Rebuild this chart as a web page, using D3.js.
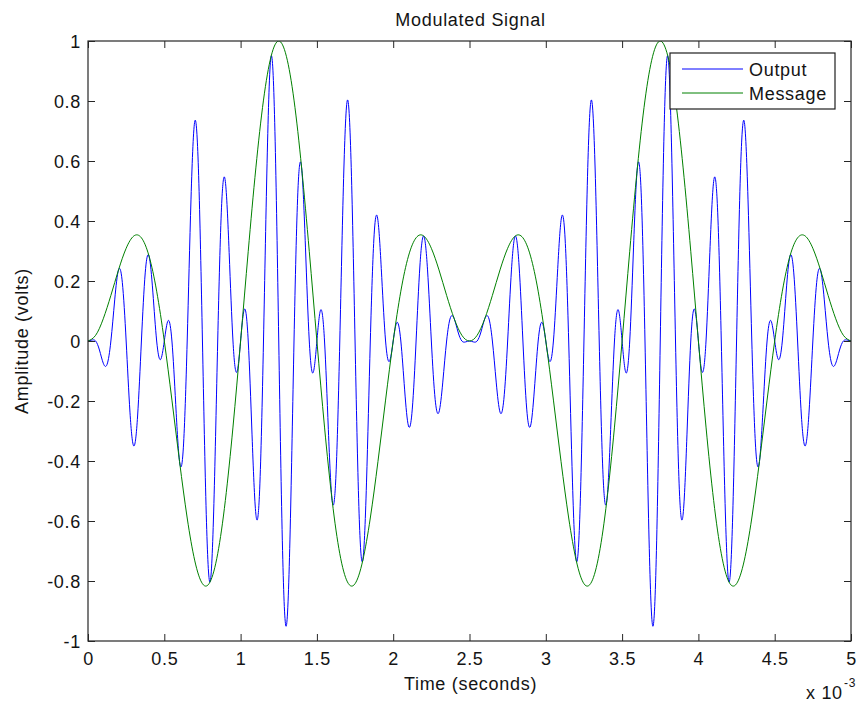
<!DOCTYPE html>
<html>
<head>
<meta charset="utf-8">
<script src="https://cdn.jsdelivr.net/npm/d3@7"></script>
<style>
html, body { margin: 0; padding: 0; background: #ffffff; }
svg { display: block; }
text { font-family: "Liberation Sans", Arial, Helvetica, sans-serif; fill: #141414; }
</style>
</head>
<body>
<svg id="chart" width="860" height="702"></svg>
<script>
// ---------------- data (time in units of 10^-3 s) ----------------
const xTickValues = [0, 0.5, 1, 1.5, 2, 2.5, 3, 3.5, 4, 4.5, 5];
const xTickLabels = ["0", "0.5", "1", "1.5", "2", "2.5", "3", "3.5", "4", "4.5", "5"];
const yTickValues = [-1, -0.8, -0.6, -0.4, -0.2, 0, 0.2, 0.4, 0.6, 0.8, 1];
const yTickLabels = ["-1", "-0.8", "-0.6", "-0.4", "-0.2", "0", "0.2", "0.4", "0.6", "0.8", "1"];

const seriesNames = ["Output", "Message"];
const seriesColors = ["#0000ff", "#008000"];

// Output samples, one every 0.025 (x 10^-3 s), from t = 0 to t = 5
const outputStart = 0;
const outputStep = 0.025;
const outputValues = [
  0, 0.003, 0, -0.030, -0.074, -0.078, 0, 0.137, 0.237, 0.195,
  0, -0.237, -0.350, -0.250, 0, 0.227, 0.283, 0.163, 0, -0.062,
  0, 0.068, 0, -0.212, -0.402, -0.354, 0, 0.473, 0.733, 0.552,
  0, -0.578, -0.803, -0.542, 0, 0.446, 0.532, 0.295, 0, -0.104,
  0, 0.106, 0, -0.313, -0.577, -0.494, 0, 0.627, 0.949, 0.698,
  0, -0.698, -0.949, -0.627, 0, 0.494, 0.577, 0.313, 0, -0.106,
  0, 0.104, 0, -0.295, -0.532, -0.446, 0, 0.542, 0.803, 0.578,
  0, -0.552, -0.733, -0.473, 0, 0.354, 0.402, 0.212, 0, -0.068,
  0, 0.062, 0, -0.163, -0.283, -0.227, 0, 0.250, 0.350, 0.237,
  0, -0.195, -0.237, -0.137, 0, 0.078, 0.074, 0.030, 0, -0.003,
  0, -0.003, 0, 0.030, 0.074, 0.078, 0, -0.137, -0.237, -0.195,
  0, 0.237, 0.350, 0.250, 0, -0.227, -0.283, -0.163, 0, 0.062,
  0, -0.068, 0, 0.212, 0.402, 0.354, 0, -0.473, -0.733, -0.552,
  0, 0.578, 0.803, 0.542, 0, -0.446, -0.532, -0.295, 0, 0.104,
  0, -0.106, 0, 0.313, 0.577, 0.494, 0, -0.627, -0.949, -0.698,
  0, 0.698, 0.949, 0.627, 0, -0.494, -0.577, -0.313, 0, 0.106,
  0, -0.104, 0, 0.295, 0.532, 0.446, 0, -0.542, -0.803, -0.578,
  0, 0.552, 0.733, 0.473, 0, -0.354, -0.402, -0.212, 0, 0.068,
  0, -0.062, 0, 0.163, 0.283, 0.227, 0, -0.250, -0.350, -0.237,
  0, 0.195, 0.237, 0.137, 0, -0.078, -0.074, -0.030, 0, 0.003,
  0
];

// Message samples, one every 0.05 (x 10^-3 s), from t = 0 to t = 5
const messageStart = 0;
const messageStep = 0.05;
const messageValues = [
  0, 0.019, 0.074, 0.152, 0.237, 0.309, 0.350, 0.344, 0.283, 0.166,
  0, -0.197, -0.402, -0.590, -0.733, -0.809, -0.803, -0.709, -0.532, -0.287,
  0, 0.299, 0.577, 0.803, 0.949, 1, 0.949, 0.803, 0.577, 0.299,
  0, -0.287, -0.532, -0.709, -0.803, -0.809, -0.733, -0.590, -0.402, -0.197,
  0, 0.166, 0.283, 0.344, 0.350, 0.309, 0.237, 0.152, 0.074, 0.019,
  0, 0.019, 0.074, 0.152, 0.237, 0.309, 0.350, 0.344, 0.283, 0.166,
  0, -0.197, -0.402, -0.590, -0.733, -0.809, -0.803, -0.709, -0.532, -0.287,
  0, 0.299, 0.577, 0.803, 0.949, 1, 0.949, 0.803, 0.577, 0.299,
  0, -0.287, -0.532, -0.709, -0.803, -0.809, -0.733, -0.590, -0.402, -0.197,
  0, 0.166, 0.283, 0.344, 0.350, 0.309, 0.237, 0.152, 0.074, 0.019,
  0
];

// ---------------- layout ----------------
const W = 860, H = 702;
const plot = { left: 88, right: 851, top: 41, bottom: 641 };
const fontSize = 18;
const letterSpacing = 0.7;
const tickLen = 7;

const svg = d3.select("#chart");

const x = d3.scaleLinear().domain([0, 5]).range([plot.left, plot.right]);
const y = d3.scaleLinear().domain([-1, 1]).range([plot.bottom, plot.top]);

const outputData = outputValues.map((v, i) => ({ t: outputStart + i * outputStep, v }));
const messageData = messageValues.map((v, i) => ({ t: messageStart + i * messageStep, v }));

// clip
svg.append("defs").append("clipPath").attr("id", "plotClip")
  .append("rect")
  .attr("x", plot.left).attr("y", plot.top)
  .attr("width", plot.right - plot.left).attr("height", plot.bottom - plot.top);

// background of axes
svg.append("rect")
  .attr("x", plot.left).attr("y", plot.top)
  .attr("width", plot.right - plot.left).attr("height", plot.bottom - plot.top)
  .attr("fill", "#ffffff");

// lines
const line = d3.line()
  .x(d => x(d.t))
  .y(d => y(d.v))
  .curve(d3.curveNatural);

const lines = svg.append("g").attr("clip-path", "url(#plotClip)");
lines.append("path")
  .datum(outputData)
  .attr("d", line)
  .attr("fill", "none")
  .attr("stroke", seriesColors[0])
  .attr("stroke-width", 1);
lines.append("path")
  .datum(messageData)
  .attr("d", line)
  .attr("fill", "none")
  .attr("stroke", seriesColors[1])
  .attr("stroke-width", 1);

// axes
const axisColor = "#262626";
function styleAxis(g, showText) {
  g.select(".domain").remove();
  g.selectAll(".tick line").attr("stroke", axisColor).attr("stroke-width", 1);
  g.selectAll(".tick text")
    .attr("fill", "#141414")
    .style("font-size", fontSize + "px")
    .style("letter-spacing", letterSpacing + "px")
    .style("font-family", '"Liberation Sans", Arial, Helvetica, sans-serif');
  if (!showText) g.selectAll(".tick text").remove();
}

const xAxisBottom = d3.axisBottom(x)
  .tickValues(xTickValues)
  .tickFormat((d, i) => xTickLabels[i])
  .tickSizeInner(-tickLen).tickSizeOuter(0).tickPadding(11);
svg.append("g")
  .attr("transform", `translate(0,${plot.bottom})`)
  .call(xAxisBottom)
  .call(g => styleAxis(g, true));

const xAxisTop = d3.axisTop(x)
  .tickValues(xTickValues)
  .tickFormat("")
  .tickSizeInner(-tickLen).tickSizeOuter(0);
svg.append("g")
  .attr("transform", `translate(0,${plot.top})`)
  .call(xAxisTop)
  .call(g => styleAxis(g, false));

const yAxisLeft = d3.axisLeft(y)
  .tickValues(yTickValues)
  .tickFormat((d, i) => yTickLabels[i])
  .tickSizeInner(-tickLen).tickSizeOuter(0).tickPadding(7);
svg.append("g")
  .attr("transform", `translate(${plot.left},0)`)
  .call(yAxisLeft)
  .call(g => styleAxis(g, true))
  .call(g => g.selectAll(".tick text").attr("dy", "0.38em"));

const yAxisRight = d3.axisRight(y)
  .tickValues(yTickValues)
  .tickFormat("")
  .tickSizeInner(-tickLen).tickSizeOuter(0);
svg.append("g")
  .attr("transform", `translate(${plot.right},0)`)
  .call(yAxisRight)
  .call(g => styleAxis(g, false));

// box
svg.append("rect")
  .attr("x", plot.left).attr("y", plot.top)
  .attr("width", plot.right - plot.left).attr("height", plot.bottom - plot.top)
  .attr("fill", "none")
  .attr("stroke", axisColor)
  .attr("stroke-width", 1.2);

// texts
function label(txt, xx, yy, anchor, size) {
  return svg.append("text")
    .attr("x", xx).attr("y", yy)
    .attr("text-anchor", anchor)
    .style("font-size", (size || fontSize) + "px")
    .style("letter-spacing", letterSpacing + "px")
    .text(txt);
}
label("Modulated Signal", (plot.left + plot.right) / 2 + 1, 26, "middle");
label("Time (seconds)", (plot.left + plot.right) / 2 + 1, 690, "middle");
svg.append("text")
  .attr("transform", `translate(28,${(plot.top + plot.bottom) / 2}) rotate(-90)`)
  .attr("text-anchor", "middle")
  .style("font-size", fontSize + "px")
  .style("letter-spacing", letterSpacing + "px")
  .text("Amplitude (volts)");
label("x 10", 806, 699, "start");
label("-3", 844, 687, "start", 12);

// legend
const legend = { x: 670, y: 53, w: 165, h: 56 };
const lg = svg.append("g");
lg.append("rect")
  .attr("x", legend.x).attr("y", legend.y)
  .attr("width", legend.w).attr("height", legend.h)
  .attr("fill", "#ffffff")
  .attr("stroke", "#1e1e1e")
  .attr("stroke-width", 1.2);
const legendRows = [69, 93];
seriesNames.forEach((name, i) => {
  lg.append("line")
    .attr("x1", 682).attr("x2", 743)
    .attr("y1", legendRows[i]).attr("y2", legendRows[i])
    .attr("stroke", seriesColors[i])
    .attr("stroke-width", 1);
  lg.append("text")
    .attr("x", 749).attr("y", legendRows[i] + 6.5)
    .style("font-size", fontSize + "px")
    .style("letter-spacing", letterSpacing + "px")
    .text(name);
});
</script>
</body>
</html>
